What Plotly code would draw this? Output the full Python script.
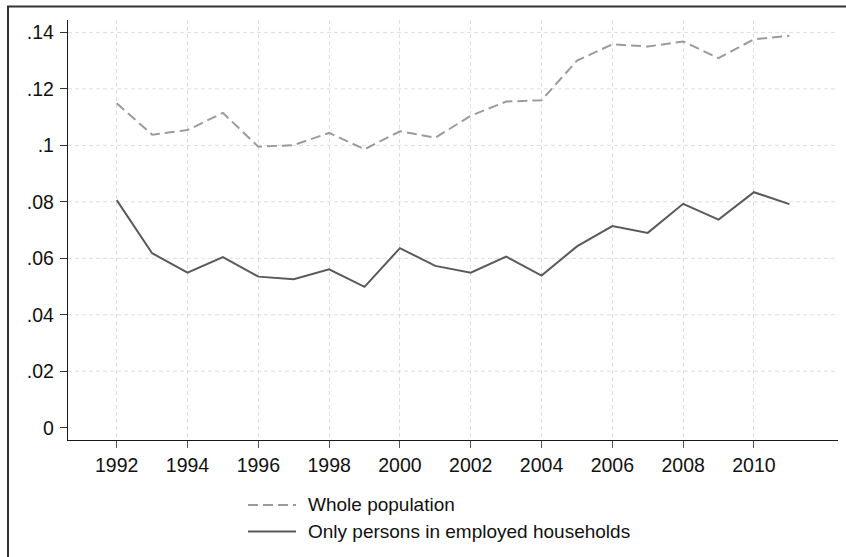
import plotly.graph_objects as go

years = list(range(1992, 2012))
whole_population = [0.1149, 0.1038, 0.1054, 0.1115, 0.0995, 0.1001, 0.1044, 0.0986, 0.1050, 0.1027,
                    0.1105, 0.1155, 0.1160, 0.1300, 0.1358, 0.1350, 0.1368, 0.1309, 0.1376, 0.1388]
employed_households = [0.0806, 0.0618, 0.0549, 0.0604, 0.0535, 0.0526, 0.0561, 0.0499, 0.0636, 0.0573,
                       0.0549, 0.0606, 0.0539, 0.0642, 0.0714, 0.0690, 0.0793, 0.0737, 0.0834, 0.0792]
x_ticks = list(range(1992, 2012, 2))
y_ticks = [0, 0.02, 0.04, 0.06, 0.08, 0.10, 0.12, 0.14]
y_tick_text = ["0", ".02", ".04", ".06", ".08", ".1", ".12", ".14"]
legend_names = ["Whole population", "Only persons in employed households"]

W, H = 846, 557
L, R, T, B = 68, 838, 20, 440  # plot area in pixels
pw, ph = R - L, B - T

def px(x):
    return (x - L) / pw

def py(y):
    return (B - y) / ph

dashed_color = "#9b9b9b"
solid_color = "#5a5a5a"
font_family = "Liberation Sans, Arial, sans-serif"
fs_tick = 19.5
fs_leg = 19

fig = go.Figure()
fig.add_trace(go.Scatter(x=years, y=whole_population, mode="lines", name=legend_names[0],
                         line=dict(color=dashed_color, width=2, dash="10px,5px"), showlegend=False))
fig.add_trace(go.Scatter(x=years, y=employed_households, mode="lines", name=legend_names[1],
                         line=dict(color=solid_color, width=2), showlegend=False))

shapes = []
# horizontal grid (no line at 0)
for v in y_ticks[1:]:
    shapes.append(dict(type="line", xref="paper", yref="y", x0=0, x1=1, y0=v, y1=v,
                       line=dict(color="#dedede", width=1, dash="4px,3px"), layer="below"))
# outer frame
shapes.append(dict(type="rect", xref="paper", yref="paper", x0=px(8), x1=px(860), y0=py(570), y1=py(6.5),
                   line=dict(color="#333333", width=2), fillcolor="rgba(0,0,0,0)"))
# legend keys
ly = [505, 531.5]
shapes.append(dict(type="line", xref="paper", yref="paper", x0=px(248), x1=px(296), y0=py(ly[0]), y1=py(ly[0]),
                   line=dict(color=dashed_color, width=2, dash="10px,5px")))
shapes.append(dict(type="line", xref="paper", yref="paper", x0=px(248), x1=px(296), y0=py(ly[1]), y1=py(ly[1]),
                   line=dict(color=solid_color, width=2)))

annotations = []
for name, yy in zip(legend_names, ly):
    annotations.append(dict(text=name, xref="paper", yref="paper", x=px(306), y=py(yy),
                            xanchor="left", yanchor="middle", showarrow=False,
                            font=dict(family=font_family, size=fs_leg, color="#111")))

fig.update_layout(
    width=W, height=H,
    margin=dict(l=L, r=W - R, t=T, b=H - B, pad=0),
    paper_bgcolor="white", plot_bgcolor="white",
    shapes=shapes, annotations=annotations,
    font=dict(family=font_family, size=fs_tick, color="#111"),
    xaxis=dict(range=[1990.624, 2012.374], tickvals=x_ticks, ticktext=[str(t) for t in x_ticks],
               showgrid=True, gridcolor="#dedede", gridwidth=1, griddash="4px,3px",
               showline=True, linecolor="#1a1a1a", linewidth=1.3, zeroline=False,
               ticks="outside", ticklen=7, tickwidth=1.3, tickcolor="#555",
               tickfont=dict(family=font_family, size=fs_tick, color="#111")),
    yaxis=dict(range=[-0.00436, 0.1444], tickvals=y_ticks, ticktext=y_tick_text,
               showgrid=False, showline=True, linecolor="#1a1a1a", linewidth=1.3, zeroline=False,
               ticks="outside", ticklen=7, tickwidth=1.3, tickcolor="#333", ticklabelstandoff=2,
               tickfont=dict(family=font_family, size=fs_tick, color="#111")),
)

fig.write_html("out.html")
